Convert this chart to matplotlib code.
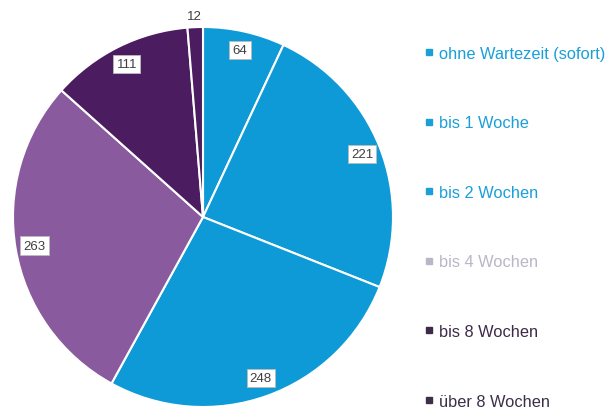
import matplotlib
matplotlib.use("Agg")
import matplotlib.pyplot as plt
from matplotlib.lines import Line2D

plt.rcParams['font.family'] = ['Liberation Sans', 'DejaVu Sans']

categories = ["ohne Wartezeit (sofort)", "bis 1 Woche", "bis 2 Wochen",
              "bis 4 Wochen", "bis 8 Wochen", "über 8 Wochen"]
values = [64, 221, 248, 263, 111, 12]
slice_colors = ["#0e9ad6", "#0e9ad6", "#0e9ad6", "#8a5a9f", "#4b1c5f", "#4b1c5f"]
legend_colors = ["#1a9fd8", "#1a9fd8", "#1a9fd8", "#b9b6c8", "#3d2a48", "#3b3048"]

fig = plt.figure(figsize=(6.12, 4.14), dpi=100)
ax = fig.add_axes([13/612, 6/414, 380/612, 380/414])

wedges, texts = ax.pie(values, colors=slice_colors, startangle=90, counterclock=False,
                       radius=1.0, labels=[str(v) for v in values], labeldistance=0.9,
                       wedgeprops=dict(edgecolor="white", linewidth=1.5),
                       textprops=dict(fontsize=9.5, color="#404040"))
for i, t in enumerate(texts):
    t.set_ha("center")
    t.set_va("center")
    if values[i] < 30:
        x, y = t.get_position()
        t.set_position((x / 0.9 * 1.06, y / 0.9 * 1.06))
    else:
        t.set_bbox(dict(boxstyle="square,pad=0.25", facecolor="white",
                        edgecolor="#bbbbbb", linewidth=0.6))
ax.set_xlim(-1, 1)
ax.set_ylim(-1, 1)
ax.set_aspect("equal")
ax.axis("off")

handles = [Line2D([], [], marker="s", linestyle="none", markersize=4.5,
                  markerfacecolor=c, markeredgecolor=c) for c in legend_colors]
leg = fig.legend(handles, categories, loc="upper left", bbox_to_anchor=(416/612, 1 - 38.5/414),
                 frameon=False, fontsize=11.8, labelspacing=3.33, handlelength=0.6,
                 handletextpad=0.3, borderpad=0, labelcolor=legend_colors)

fig.savefig("out.png", dpi=100)
